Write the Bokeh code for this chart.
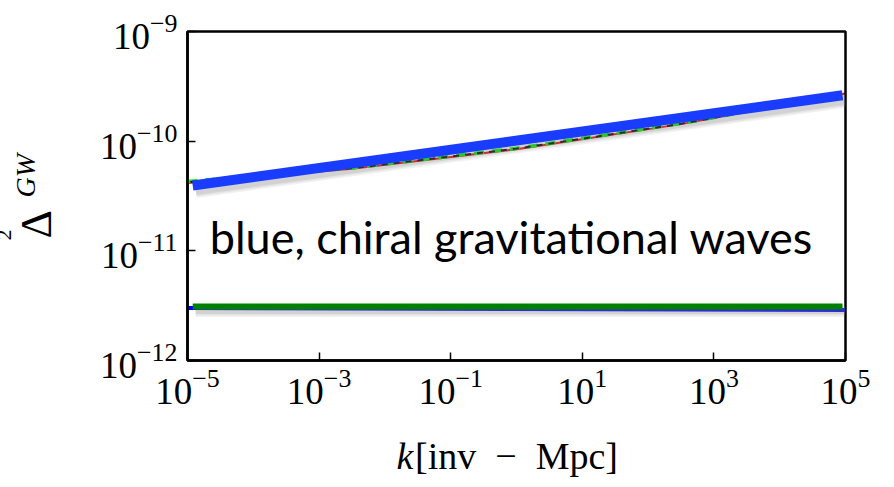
import numpy as np
from bokeh.plotting import figure
from bokeh.models import Label, FixedTicker, LogTickFormatter
from bokeh.embed import file_html
from bokeh.resources import INLINE

# wavenumbers [inv-Mpc]
k_full = [1e-5, 1e5]
k_thick = [1.2e-5, 9e4]
k_curve = [1e-5, 10 ** -2.5, 1e0, 10 ** 2.5, 1e5]

# tensor power spectra, upper (blue-tilted) set
upper_red = [4.15e-11, 5.60e-11, 8.45e-11, 1.43e-10, 2.72e-10]
upper_black = [4.22e-11, 5.66e-11, 8.55e-11, 1.44e-10, 2.72e-10]
upper_green = [4.28e-11, 5.70e-11, 8.60e-11, 1.45e-10, 2.72e-10]
upper_blue = [3.94e-11, 2.62e-10]
# lower (nearly flat) pair
lower_blue = [3.01e-12, 2.89e-12]
lower_green = [3.11e-12, 3.11e-12]

x_ticks = [1e-5, 1e-3, 1e-1, 1e1, 1e3, 1e5]
y_ticks = [1e-12, 1e-11, 1e-10, 1e-9]

SERIF = "Liberation Serif"

p = figure(width=894, height=487, x_axis_type="log", y_axis_type="log",
           x_range=(1e-5, 1e5), y_range=(1e-12, 1e-9),
           output_backend="svg", toolbar_location=None,
           min_border_left=187, min_border_right=49,
           min_border_top=31, min_border_bottom=127)
p.title.visible = False
p.background_fill_color = "white"
p.border_fill_color = "white"
p.outline_line_color = "black"
p.outline_line_width = 2.5
p.xgrid.visible = False
p.ygrid.visible = False

for ax, ticks in ((p.xaxis[0], x_ticks), (p.yaxis[0], y_ticks)):
    ax.ticker = FixedTicker(ticks=ticks, minor_ticks=[])
    ax.formatter = LogTickFormatter()
    ax.major_tick_in = 8
    ax.major_tick_out = 0
    ax.major_tick_line_width = 1.5
    ax.minor_tick_line_color = None
    ax.axis_line_width = 2.5
    ax.major_label_text_font = SERIF
    ax.major_label_text_font_size = "37px"
    ax.major_label_text_color = "black"
p.xaxis.major_label_standoff = 8
p.yaxis.major_label_standoff = 10

# x-axis title (units part; the italic k is placed beside it below)
p.xaxis.axis_label = "[inv\u2002−\u2002Mpc]"
p.xaxis.axis_label_text_font = SERIF
p.xaxis.axis_label_text_font_size = "38px"
p.xaxis.axis_label_text_font_style = "normal"
p.xaxis.axis_label_text_color = "black"
p.xaxis.axis_label_standoff = 28


def shadowed(xs, ys, color, width):
    # soft grey drop shadow, shifted right and down
    sx = [x * 1.11 for x in xs]
    sy = [y * 0.91 for y in ys]
    for extra, alpha in ((6, 0.10), (3, 0.12), (0, 0.18)):
        p.line(sx, sy, line_color="gray", line_width=width + extra,
               line_alpha=alpha, line_cap="butt")
    p.line(xs, ys, line_color=color, line_width=width, line_cap="butt")


p.line(k_full, lower_blue, line_color="#0000ff", line_width=4, line_cap="butt")
shadowed(k_thick, lower_green, "#008000", 6)

p.line(k_curve, upper_red, line_color="#ff0000", line_width=2)
p.line(k_curve, upper_green, line_color="#00ee00", line_width=3.5, line_dash="10 8")
p.line(k_curve, upper_black, line_color="black", line_width=2, line_dash="6 6",
       line_dash_offset=9)
shadowed(k_thick, upper_blue, "#1a3cff", 10)

p.add_layout(Label(x=324, y=124, x_units="screen", y_units="screen",
                   text="blue, chiral gravitational waves",
                   text_font="Lato", text_font_size="45px",
                   text_align="center", text_baseline="alphabetic",
                   text_color="black"))

ROT = np.pi / 2


def title_piece(side, text, x, y, size, style="normal", angle=0.0):
    p.add_layout(Label(x=x, y=y, x_units="screen", y_units="screen", angle=angle,
                       text=text, text_font=SERIF, text_font_size=size,
                       text_font_style=style, text_align="left",
                       text_baseline="alphabetic", text_color="black"), side)


# y-axis title: Delta, superscript 2, italic subscript GW
title_piece("left", "Δ", -12, 122, "44px", angle=ROT)
title_piece("left", "GW", 8, 163, "28px", "italic", angle=ROT)
title_piece("above", "2", -184, -209, "22px", angle=ROT)
# italic k in front of the x-axis units
title_piece("right", "k", -449, -95, "38px", "italic")

open("out.html", "w").write(file_html(p, INLINE))
